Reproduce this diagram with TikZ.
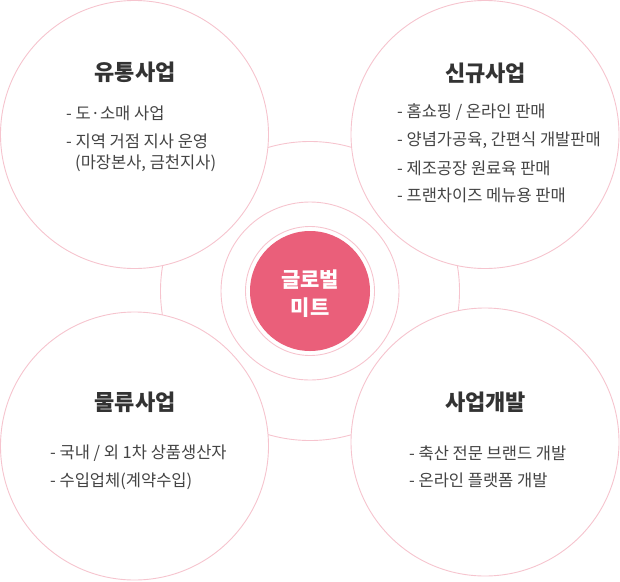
\documentclass[tikz,border=0pt]{standalone}
\usepackage{fontspec}
\setmainfont{Noto Sans CJK KR}
\definecolor{ringpink}{HTML}{F6C4CE}
\definecolor{corepink}{HTML}{EA5F7A}
\definecolor{titlegray}{HTML}{333333}
\definecolor{bodygray}{HTML}{444444}
\tikzset{
  bigc/.style={circle, draw=ringpink, line width=0.9pt, fill=white, inner sep=0pt},
  ringc/.style={circle, draw=ringpink, line width=0.9pt, inner sep=0pt},
  ttl/.style={font=\fontsize{22}{26}\selectfont\bfseries, text=titlegray, inner sep=0pt},
  itm/.style={font=\fontsize{16.5}{20}\selectfont, text=bodygray, anchor=west, inner sep=0pt},
  ctxt/.style={font=\fontsize{21}{25}\selectfont\bfseries, text=white, inner sep=0pt}
}
\begin{document}
\begin{tikzpicture}[x=1pt,y=-1pt]
\useasboundingbox (0,0) rectangle (620,581);
% central rings
\node[ringc, minimum size=299pt] (ring3) at (310,291) {};
\node[ringc, minimum size=178pt] (ring2) at (310,291) {};
% big circles
\node[bigc, minimum size=268pt] (tl) at (134.5,134.5) {};
\node[bigc, minimum size=268pt] (tr) at (485,134.5) {};
\node[bigc, minimum size=268pt] (bl) at (134.5,446) {};
\node[bigc, minimum size=268pt] (br) at (485,442) {};
% core
\node[ringc, minimum size=129pt] (ring1) at (310,291) {};
\node[circle, fill=corepink, minimum size=120pt, inner sep=0pt] (core) at (310,291) {};
\node[ctxt] (c1) at (310,280) {글로벌};
\node[ctxt] (c2) at (310,308) {미트};
% top-left
\node[ttl] (t1) at (135,72) {유통사업};
\node[itm] (t1a) at (66,113) {- 도·소매 사업};
\node[itm] (t1b) at (66,141) {- 지역 거점 지사 운영};
\node[itm] (t1c) at (75,163) {(마장본사, 금천지사)};
% top-right
\node[ttl] (t2) at (485.5,73) {신규사업};
\node[itm] (t2a) at (397,112) {- 홈쇼핑 / 온라인 판매};
\node[itm] (t2b) at (397,140) {- 양념가공육, 간편식 개발판매};
\node[itm] (t2c) at (397,168) {- 제조공장 원료육 판매};
\node[itm] (t2d) at (397,195) {- 프랜차이즈 메뉴용 판매};
% bottom-left
\node[ttl] (t3) at (135,402) {물류사업};
\node[itm] (t3a) at (50,453) {- 국내 / 외 1차 상품생산자};
\node[itm] (t3b) at (50,481) {- 수입업체(계약수입)};
% bottom-right
\node[ttl] (t4) at (485.5,402) {사업개발};
\node[itm] (t4a) at (409,453) {- 축산 전문 브랜드 개발};
\node[itm] (t4b) at (409,480) {- 온라인 플랫폼 개발};
\end{tikzpicture}
\end{document}
